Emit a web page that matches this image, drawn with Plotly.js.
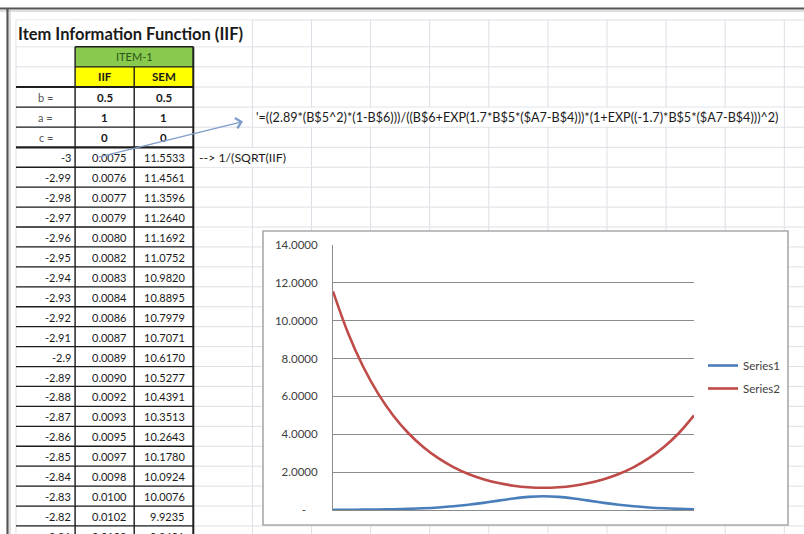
<!DOCTYPE html>
<html><head><meta charset="utf-8">
<script src="https://cdn.plot.ly/plotly-3.0.1.min.js"></script>
<style>html,body{margin:0;padding:0;background:#fff}#chart{width:804px;height:534px}</style>
</head><body><div id="chart"></div><script>
// ---------- chart data ----------
const theta = [-3,-2.75,-2.5,-2.25,-2,-1.75,-1.5,-1.25,-1,-0.75,-0.5,-0.25,0,0.25,0.5,0.75,1,1.25,1.5,1.75,2,2.25,2.5,2.75,3];
const iifCurve = [0.0075,0.0114,0.0174,0.0265,0.0401,0.0604,0.0903,0.1335,0.1941,0.2753,0.3775,0.4933,0.6062,0.6908,0.7225,0.6908,0.6062,0.4933,0.3775,0.2753,0.1941,0.1335,0.0903,0.0604,0.0401];
const semCurve = [11.554,9.354,7.580,6.148,4.996,4.069,3.328,2.737,2.270,1.906,1.628,1.424,1.284,1.203,1.176,1.203,1.284,1.424,1.628,1.906,2.270,2.737,3.328,4.069,4.996];
const seriesNames = ['Series1','Series2'];
const yTickVals = [0,2,4,6,8,10,12,14];
const yTickText = ['-\u00a0\u00a0\u00a0\u00a0','2.0000','4.0000','6.0000','8.0000','10.0000','12.0000','14.0000'];

// ---------- sheet data ----------
const sheetTitle = 'Item Information Function (IIF)';
const itemLabel = 'ITEM-1';
const colHeads = ['IIF','SEM'];
const paramLabels = ['b =','a =','c ='];
const paramIIF = ['0.5','1','0'];
const paramSEM = ['0.5','1','0'];
const thetaRows = ['-3','-2.99','-2.98','-2.97','-2.96','-2.95','-2.94','-2.93','-2.92','-2.91','-2.9','-2.89','-2.88','-2.87','-2.86','-2.85','-2.84','-2.83','-2.82','-2.81'];
const iifRows = ['0.0075','0.0076','0.0077','0.0079','0.0080','0.0082','0.0083','0.0084','0.0086','0.0087','0.0089','0.0090','0.0092','0.0093','0.0095','0.0097','0.0098','0.0100','0.0102','0.0103'];
const semRows = ['11.5533','11.4561','11.3596','11.2640','11.1692','11.0752','10.9820','10.8895','10.7979','10.7071','10.6170','10.5277','10.4391','10.3513','10.2643','10.1780','10.0924','10.0076','9.9235','9.8401'];
const formulaText = "'=((2.89*(B$5^2)*(1-B$6)))/((B$6+EXP(1.7*B$5*($A7-B$4)))*(1+EXP((-1.7)*B$5*($A7-B$4)))^2)";
const semNote = '--&gt; 1/(SQRT(IIF)';

// ---------- sheet geometry (layout only) ----------
const W = 804, H = 534;
const colW = 59.1, col0 = 16;
const colEdges = []; for (let i = 0; i < 14; i++) colEdges.push(col0 + colW * i);
const rowEdges = [20, 46.8];
for (let i = 0; i < 5; i++) rowEdges.push(rowEdges[rowEdges.length - 1] + 20.1);
for (let i = 0; i < 20; i++) rowEdges.push(rowEdges[rowEdges.length - 1] + 19.93);
const FONT = 'Lato, "Open Sans", sans-serif';
const gridCol = '#dcdfe6', black = '#1e1e1e';

const shapes = [];
function seg(x0, y0, x1, y1, color, width) {
  shapes.push({type: 'line', xref: 'x', yref: 'y', layer: 'below', x0, y0, x1, y1, line: {color, width}});
}
function box(x0, y0, x1, y1, fill, lineColor, lw) {
  shapes.push({type: 'rect', xref: 'x', yref: 'y', layer: 'below', x0, y0, x1, y1, fillcolor: fill,
    line: {color: lineColor || fill, width: lineColor ? lw : 0}});
}
// grid
colEdges.forEach(x => seg(x, rowEdges[0], x, H + 20, gridCol, 1));
rowEdges.forEach(y => seg(col0, y, W + 20, y, gridCol, 1));
// fills
const cA = colEdges[0], cB = colEdges[1], cC = colEdges[2], cD = colEdges[3];
box(cB, rowEdges[1], cD, rowEdges[2], '#88c94e');
box(cB, rowEdges[2], cD, rowEdges[3], '#ffff00');
// overflow masks (text spilling over neighbouring cells hides gridlines)
box(cA + 0.8, rowEdges[0] + 0.6, colEdges[4] - 0.8, rowEdges[1] - 0.6, '#ffffff');
box(colEdges[4] + 0.8, rowEdges[4] + 0.6, colEdges[13] - 0.8, rowEdges[5] - 0.6, '#ffffff');
box(cD + 1.2, rowEdges[6] + 0.6, colEdges[5] - 0.8, rowEdges[7] - 0.6, '#ffffff');
// table borders
seg(cB, rowEdges[1], cD, rowEdges[1], black, 1.4);
seg(cB, rowEdges[2], cD, rowEdges[2], black, 1.4);
seg(cB, rowEdges[1], cB, H + 20, black, 1.4);
seg(cC, rowEdges[2], cC, H + 20, black, 1.4);
seg(cD, rowEdges[1], cD, H + 20, black, 2);
for (let r = 3; r < rowEdges.length; r++) {
  const thick = (r === 3 || r === 6);
  seg(cA, rowEdges[r], cD, rowEdges[r], black, thick ? 2.2 : 1.3);
}
// chart frame (white box over the sheet)
box(263, 231, 788, 525, '#ffffff', '#a9a9a9', 1.6);
// window frame
seg(0, 8.5, W, 8.5, '#555555', 2.2);
seg(0, 11, W, 11, '#bdbdbd', 1);
seg(7.5, 8, 7.5, H, '#555555', 2.2);
seg(10, 10, 10, H, '#bdbdbd', 1);

// ---------- text ----------
const ann = [];
function txt(text, x, y, xanchor, opts) {
  opts = opts || {};
  ann.push({text, x, y, xref: 'x', yref: 'y', xanchor, yanchor: opts.yanchor || 'middle', showarrow: false,
    font: {family: FONT, size: opts.size || 11, color: opts.color || '#1a1a1a', weight: opts.bold ? 'bold' : 'normal'},
    borderpad: 0});
}
function mid(r) { return (rowEdges[r] + rowEdges[r + 1]) / 2; }
txt(sheetTitle, cA + 1, mid(0) + 0.5, 'left', {size: 16.5, bold: true});
txt(itemLabel, (cB + cD) / 2, mid(1), 'center', {color: '#2a5418', size: 11});
txt(colHeads[0], (cB + cC) / 2, mid(2), 'center', {bold: true, size: 11.5});
txt(colHeads[1], (cC + cD) / 2, mid(2), 'center', {bold: true, size: 11.5});
paramLabels.forEach((p, i) => {
  txt(p, (cA + cB) / 2, mid(3 + i), 'center', {color: '#555555', size: 11});
  txt(paramIIF[i], (cB + cC) / 2, mid(3 + i), 'center', {bold: true, size: 11.5});
  txt(paramSEM[i], (cC + cD) / 2, mid(3 + i), 'center', {bold: true, size: 11.5});
});
thetaRows.forEach((t, i) => {
  const r = 6 + i, top = rowEdges[r] + 3;
  txt(t, cB - 3, top, 'right', {yanchor: 'top'});
  txt(iifRows[i], cC - 6, top, 'right', {yanchor: 'top'});
  txt(semRows[i], cD - 7, top, 'right', {yanchor: 'top'});
});
txt(formulaText, colEdges[4] + 3, mid(4), 'left', {size: 12.6});
txt(semNote, cD + 5, mid(6), 'left', {size: 12.3});
// arrow from the IIF cell to the formula
ann.push({x: 243, y: 121.5, ax: 97, ay: 157.5, xref: 'x', yref: 'y', axref: 'x', ayref: 'y', text: '',
  showarrow: true, arrowhead: 4, arrowsize: 1.6, arrowwidth: 1.3, arrowcolor: '#7f9dcb'});

// ---------- traces ----------
const data = [
  {x: [0], y: [0], xaxis: 'x', yaxis: 'y', mode: 'markers', marker: {opacity: 0}, showlegend: false, hoverinfo: 'skip'},
  {x: theta, y: iifCurve, xaxis: 'x2', yaxis: 'y2', mode: 'lines', name: seriesNames[0], legendgroup: 'a',
   line: {color: '#4a7ebb', width: 2.6, shape: 'spline'}},
  {x: theta, y: semCurve, xaxis: 'x2', yaxis: 'y2', mode: 'lines', name: seriesNames[1], legendgroup: 'b',
   line: {color: '#be4b48', width: 2.6, shape: 'spline'}}
];

const layout = {
  width: W, height: H, margin: {l: 0, r: 0, t: 0, b: 0},
  paper_bgcolor: '#ffffff', plot_bgcolor: 'rgba(0,0,0,0)',
  xaxis: {domain: [0, 1], range: [0, W], visible: false, fixedrange: true, anchor: 'y'},
  yaxis: {domain: [0, 1], range: [H, 0], visible: false, fixedrange: true, anchor: 'x'},
  xaxis2: {domain: [333 / W, 694 / W], range: [-3, 3], anchor: 'y2', showgrid: false, zeroline: false,
    showticklabels: false, ticks: '', showline: true, linecolor: '#8c8c8c', linewidth: 1, fixedrange: true},
  yaxis2: {domain: [(H - 510) / H, (H - 245) / H], range: [0, 14], anchor: 'x2', tickvals: yTickVals, ticktext: yTickText,
    showgrid: true, gridcolor: '#8c8c8c', gridwidth: 1, zeroline: false, showline: true, linecolor: '#8c8c8c', linewidth: 1,
    ticks: '', ticklabelstandoff: 12, tickfont: {family: FONT, size: 11.5, color: '#404040'}, fixedrange: true},
  showlegend: true,
  legend: {x: 703 / W, y: (H - 351) / H, xanchor: 'left', yanchor: 'top', bgcolor: 'rgba(0,0,0,0)',
    font: {family: FONT, size: 11.5, color: '#404040'}, traceorder: 'grouped', tracegroupgap: 4, itemwidth: 30},
  shapes: shapes,
  annotations: ann
};
Plotly.newPlot('chart', data, layout, {staticPlot: true, displayModeBar: false});
</script></body></html>
